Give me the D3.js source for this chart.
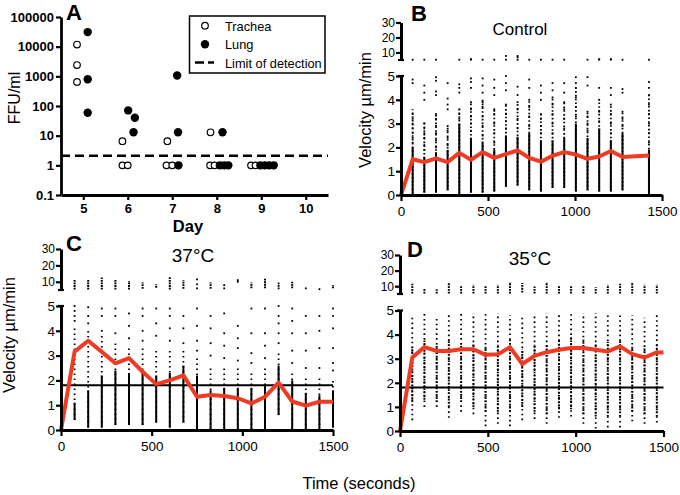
<!DOCTYPE html>
<html><head><meta charset="utf-8">
<script src="https://cdn.jsdelivr.net/npm/d3@7"></script>
<style>
body{margin:0;background:#fff}
svg{display:block}
text{font-family:"Liberation Sans",Arial,Helvetica,sans-serif;fill:#000}
</style>
</head><body>
<svg id="chart" width="680" height="495"></svg>
<script>
// ---------------- Panel A data ----------------
const dayTicks = [5, 6, 7, 8, 9, 10];
const ffuTicks = [0.1, 1, 10, 100, 1000, 10000, 100000];
const ffuTickLabels = ["0.1", "1", "10", "100", "1000", "10000", "100000"];
const tracheaDay = [4.86, 4.86, 4.86, 5.88, 5.88, 6.0, 6.89, 6.87, 7.0, 7.86, 7.85, 7.95, 8.77, 8.87];
const tracheaFFU = [11800, 2400, 650, 6.5, 1, 1, 6.5, 1, 1, 13, 1, 1, 1, 1];
const lungDay = [5.1, 5.1, 5.1, 6.01, 6.16, 6.13, 7.11, 7.13, 7.14, 8.13, 8.07, 8.17, 8.26, 8.98, 9.08, 9.18, 9.28];
const lungFFU = [31000, 800, 59, 71, 40, 13, 1070, 13, 1, 13, 1, 1, 1, 1, 1, 1, 1];
const limitOfDetection = 2.1;
const legendLabels = ["Trachea", "Lung", "Limit of detection"];

// ---------------- Velocity panels shared ----------------
const timeTicks = [0, 500, 1000, 1500];
const velLowerTicks = [0, 1, 2, 3, 4, 5];
const velUpperTicks = [10, 20, 30];
const velocityCutoff = 1.8;

// ---------------- Panel B (Control) ----------------
const bTimes = [67, 134, 201, 268, 335, 402, 469, 536, 603, 670, 737, 804, 871, 938, 1005, 1072, 1139, 1206, 1273, 1425];
const bMean = [0, 1.5, 1.38, 1.54, 1.38, 1.77, 1.48, 1.8, 1.56, 1.72, 1.87, 1.56, 1.4, 1.65, 1.8, 1.7, 1.52, 1.62, 1.85, 1.6, 1.66];
const bSparseLo = [0.05, 0.1, 0.1, 0.2, 0.05, 0.1, 0.1, 0.15, 0.35, 0.4, 0.2, 0.15, 0.3, 0.3, 0.15, 0.2, 0.15, 0.15, 0.2, 0.0];
const bSparseHi = [3.6, 3.1, 3.4, 2.9, 3.6, 3.9, 4.0, 3.6, 3.8, 3.9, 4.0, 3.4, 4.1, 3.9, 4.5, 3.5, 4.0, 3.8, 3.5, 4.2];
const bDenseLo = [0.05, 0.1, 0.1, 0.2, 0.05, 0.1, 0.1, 0.15, 0.35, 0.4, 0.2, 0.15, 0.3, 0.3, 0.15, 0.2, 0.15, 0.15, 0.2, 0.0];
const bDenseHi = [2.0, 1.6, 1.8, 1.9, 3.0, 2.4, 2.2, 1.9, 2.5, 2.45, 2.6, 2.3, 2.3, 2.4, 3.0, 2.4, 2.8, 2.3, 2.6, 1.9];
const bOutliers = [
  [2.2, 2.4, 2.6, 2.8, 3.0, 3.2, 3.4, 4.7, 4.85],
  [1.9, 2.1, 2.4, 2.6, 2.8, 3.0, 4.0, 4.3, 4.6],
  [2.0, 2.3, 2.6, 2.9, 3.2, 3.4, 4.2, 4.35, 4.8, 4.95],
  [2.1, 2.4, 2.7, 2.9, 3.6, 3.8, 4.05, 4.7],
  [3.2, 3.4, 3.6, 4.3, 4.5, 4.65],
  [2.7, 3.0, 3.3, 3.6, 3.9, 4.5, 4.75, 4.9],
  [2.5, 2.9, 3.3, 3.7, 3.9, 4.3, 4.6, 4.9],
  [2.2, 2.6, 3.0, 3.4, 3.6, 4.2, 4.5, 4.85],
  [2.8, 3.1, 3.4, 3.8, 4.4, 4.7, 5.0],
  [2.8, 3.2, 3.6, 3.9, 4.2, 4.55],
  [2.9, 3.3, 3.7, 4.0, 4.5, 4.85],
  [2.6, 2.9, 3.2, 3.4, 4.0, 4.3, 4.6],
  [2.6, 3.0, 3.4, 3.8, 4.1, 4.4, 4.7],
  [2.8, 3.2, 3.6, 3.9, 4.3, 4.7],
  [3.3, 3.7, 4.1, 4.5, 4.7, 4.95],
  [2.7, 3.0, 3.3, 3.5, 4.6, 4.95],
  [3.1, 3.5, 4.0, 4.5],
  [2.6, 3.0, 3.4, 3.8, 4.2, 4.5],
  [2.9, 3.2, 3.5, 4.3, 4.45],
  [2.2, 2.6, 3.0, 3.4, 3.8, 4.2, 4.5, 4.75]
];
const bUpperLo = [null, null, null, null, null, null, null, null, null, null, null, null, null, null, null, null, null, null, null, null];
const bUpperHi = [null, null, null, null, null, null, null, null, null, null, null, null, null, null, null, null, null, null, null, null];
const bUpperDots = [[5.2], [5.2], [5.2], [], [5.2], [5.2, 5.6], [5.2], [5.2], [5.2, 7.7], [5.2, 6.8, 7.7], [5.2], [5.2], [5.2], [5.2], [], [5.2], [5.2, 5.6], [5.2, 5.6], [5.2], [5.2]];

// ---------------- Panel C (37°C) ----------------
const cTimes = [75, 150, 225, 300, 375, 450, 525, 600, 675, 750, 825, 900, 975, 1050, 1125, 1200, 1275, 1350, 1425, 1500];
const cMean = [0, 3.16, 3.6, 3.15, 2.69, 2.9, 2.35, 1.85, 2.0, 2.2, 1.34, 1.41, 1.37, 1.28, 1.07, 1.34, 1.91, 1.15, 0.98, 1.14, 1.14];
const cSparseLo = [0.4, 0.1, 0.1, 0.2, 0.2, 0.2, 0.3, 0.1, 0.3, 0.0, 0.0, 0.0, 0.0, 0.0, 0.0, 0.6, 0.0, 0.0, 0.0, 0.1];
const cSparseHi = [4.2, 4.0, 3.8, 3.6, 3.4, 3.4, 3.3, 3.3, 3.2, 2.9, 2.6, 2.6, 2.5, 2.4, 2.6, 3.2, 2.4, 2.2, 2.1, 2.1];
const cDenseLo = [0.4, 0.1, 0.1, 0.2, 0.2, 0.2, 0.3, 0.1, 0.3, 0.0, 0.0, 0.0, 0.0, 0.0, 0.0, 0.6, 0.0, 0.0, 0.0, 0.1];
const cDenseHi = [1.1, 1.6, 2.2, 2.4, 2.3, 2.4, 2.2, 2.3, 2.6, 2.2, 1.6, 1.7, 1.7, 1.7, 1.8, 2.6, 2.0, 1.5, 1.4, 1.6];
const cOutliers = [
  [4.4, 4.6, 4.8, 5.0],
  [4.3, 4.6, 4.95],
  [4.0, 4.6, 4.9],
  [3.9, 4.6, 4.9],
  [3.7, 4.2, 4.7],
  [3.6, 4.0, 4.6, 4.9],
  [3.8, 4.3, 4.9],
  [3.6, 4.1, 4.6, 4.9],
  [3.5, 4.1, 4.6],
  [3.2, 3.6, 4.2, 4.9],
  [3.0, 3.5, 4.1, 4.6],
  [2.9, 3.4, 3.9, 4.7],
  [2.8, 3.3, 3.7, 4.2],
  [2.7, 3.1, 3.9, 4.9],
  [2.9, 3.4, 3.9, 4.9],
  [3.5, 3.9, 4.3, 4.6, 5.0],
  [2.7, 3.2, 3.9, 4.4, 4.9],
  [2.5, 3.2, 3.9, 4.6],
  [2.5, 3.3, 4.0, 4.6],
  [2.4, 2.7, 3.3, 4.1, 4.6, 4.9]
];
const cUpperLo = [5.3, 5.3, 5.3, 5.3, 5.3, 5.8, 6.3, 5.3, 5.8, null, 5.8, null, null, 6.0, 6.0, null, 6.0, null, null, 6.0];
const cUpperHi = [11.5, 11.5, 12.6, 11.5, 10.5, 9.5, 8.5, 13.0, 11.0, null, 9.5, null, null, 9.5, 12.0, null, 10.0, null, null, 8.0];
const cUpperDots = [[], [], [], [], [], [], [], [], [], [6.0, 8.5, 11.5], [], [6.0, 8.0], [10.0, 11.0], [], [], [6.0, 7.5, 9.0], [], [6.0], [5.5], []];

// ---------------- Panel D (35°C) ----------------
const dTimes = [70, 139, 209, 278, 348, 418, 487, 557, 626, 696, 766, 835, 905, 974, 1044, 1114, 1183, 1253, 1322, 1392, 1462];
const dMean = [0, 3.05, 3.48, 3.32, 3.32, 3.39, 3.39, 3.16, 3.18, 3.48, 2.78, 3.12, 3.27, 3.37, 3.44, 3.44, 3.37, 3.3, 3.51, 3.19, 3.05, 3.26, 3.26];
const dMeanEnd = 1500;
const dSparseLo = [0.45, 1.0, 1.0, 0.55, 0.8, 0.7, 0.2, 0.3, 0.2, 0.45, 0.5, 0.3, 0.55, 0.6, 0.3, 0.1, 0.15, 0.15, 0.4, 0.3, 0.35];
const dSparseHi = [4.8, 4.9, 4.7, 4.9, 4.9, 4.9, 4.9, 4.9, 4.8, 4.7, 4.8, 4.9, 4.9, 4.9, 4.9, 4.9, 4.8, 4.8, 4.8, 4.7, 4.8];
const dDenseLo = [1.2, 1.3, 1.2, 1.0, 1.2, 1.0, 0.8, 0.8, 0.8, 1.0, 0.8, 0.7, 0.9, 0.9, 0.7, 0.6, 0.6, 0.6, 0.8, 0.7, 0.6];
const dDenseHi = [3.5, 3.8, 3.6, 3.8, 3.7, 3.6, 3.5, 3.6, 3.8, 3.4, 3.6, 3.6, 3.8, 3.9, 3.8, 3.6, 3.7, 3.8, 3.5, 3.5, 3.6];
const dOutliers = [[], [], [], [], [], [], [], [], [], [], [], [], [], [], [], [], [], [], [], [], []];
const dUpperLo = [5.3, 5.3, 5.3, 5.3, 5.3, 5.3, 5.3, 5.3, 5.3, 6.0, 5.3, 5.3, 5.3, 5.3, 5.3, 5.3, 5.3, 5.3, 5.3, 5.3, 5.3];
const dUpperHi = [11.5, 8.6, 8.0, 12.0, 10.0, 11.0, 10.2, 11.0, 12.7, 12.0, 9.8, 12.7, 10.0, 10.6, 10.6, 9.4, 11.0, 11.6, 12.7, 11.0, 11.0];
const dUpperDots = [[], [], [], [], [], [], [], [], [], [], [], [], [], [], [], [], [], [], [], [], []];

// ================= drawing =================
const svg = d3.select("#chart");
const FONT = '"Liberation Sans",Arial,Helvetica,sans-serif';
const RED = "#ef3b24";
const intFmt = d3.format("d");

function styleAxis(g, domainW, tickW, fontSize, bold) {
  g.select(".domain").attr("stroke", "#000").attr("stroke-width", domainW);
  g.selectAll(".tick line").attr("stroke", "#000").attr("stroke-width", tickW);
  g.selectAll(".tick text").attr("font-family", FONT).attr("font-size", fontSize)
    .attr("font-weight", bold ? "bold" : "normal").attr("fill", "#000");
}

// ---------- Panel A ----------
(function () {
  const x = d3.scaleLinear().domain([4.5, 10.5]).range([61, 328]);
  const y = d3.scaleLog().domain([0.1, 100000]).range([195, 17]);
  const g = svg.append("g");

  g.append("line").attr("x1", x(4.5)).attr("x2", x(10.5))
    .attr("y1", y(limitOfDetection)).attr("y2", y(limitOfDetection))
    .attr("stroke", "#000").attr("stroke-width", 2.5).attr("stroke-dasharray", "9,5");

  g.selectAll("circle.tr").data(tracheaDay).enter().append("circle")
    .attr("cx", (d) => x(d)).attr("cy", (d, i) => y(tracheaFFU[i])).attr("r", 3.3)
    .attr("fill", "#fff").attr("stroke", "#000").attr("stroke-width", 1.2);
  g.selectAll("circle.lu").data(lungDay).enter().append("circle")
    .attr("cx", (d) => x(d)).attr("cy", (d, i) => y(lungFFU[i])).attr("r", 4.2)
    .attr("fill", "#000");

  const ya = g.append("g").attr("transform", `translate(${x(4.5)},0)`)
    .call(d3.axisLeft(y).tickValues(ffuTicks).tickFormat((d, i) => ffuTickLabels[i]).tickSize(5).tickSizeOuter(0).tickPadding(2));
  styleAxis(ya, 2.8, 2.2, 13, true);
  const xa = g.append("g").attr("transform", `translate(0,${y(0.1)})`)
    .call(d3.axisBottom(x).tickValues(dayTicks).tickFormat(intFmt).tickSize(5).tickSizeOuter(0).tickPadding(4));
  styleAxis(xa, 2.8, 2.2, 13, true);

  g.append("text").attr("x", 188).attr("y", 232).attr("text-anchor", "middle")
    .attr("font-size", 16.5).attr("font-weight", "bold").text("Day");
  g.append("text").attr("transform", "translate(20,98) rotate(-90)").attr("text-anchor", "middle")
    .attr("font-size", 16).text("FFU/ml");
  g.append("text").attr("x", 66).attr("y", 20).attr("font-size", 22).attr("font-weight", "bold").text("A");

  const lg = g.append("g");
  lg.append("rect").attr("x", 189.5).attr("y", 16).attr("width", 135.5).attr("height", 57)
    .attr("fill", "#fff").attr("stroke", "#000").attr("stroke-width", 1.5);
  lg.append("circle").attr("cx", 205).attr("cy", 25.7).attr("r", 3.3).attr("fill", "#fff").attr("stroke", "#000").attr("stroke-width", 1.2);
  lg.append("circle").attr("cx", 205).attr("cy", 44.3).attr("r", 4.2).attr("fill", "#000");
  lg.append("line").attr("x1", 195).attr("x2", 214).attr("y1", 62.5).attr("y2", 62.5)
    .attr("stroke", "#000").attr("stroke-width", 2.5).attr("stroke-dasharray", "9,4");
  legendLabels.forEach((t, i) => {
    lg.append("text").attr("x", 225).attr("y", 30.5 + i * 18.5).attr("font-size", 12.8).text(t);
  });
})();

// ---------- Velocity panel builder ----------
function velocityPanel(o) {
  const g = svg.append("g");
  const x = d3.scaleLinear().domain([0, 1500]).range([o.x0, o.x1]);
  const yL = d3.scaleLinear().domain([0, 5]).range([o.yBottom, o.yLowTop]);
  const yU = d3.scaleLinear().domain([5, 30]).range([o.yUpBottom, o.yUpTop]);

  const cols = g.selectAll("g.col").data(o.times).enter().append("g");
  cols.append("line")
    .attr("x1", (d) => x(d)).attr("x2", (d) => x(d))
    .attr("y1", (d, i) => yL(o.sparseLo[i])).attr("y2", (d, i) => yL(o.sparseHi[i]))
    .attr("stroke", "#000").attr("stroke-width", 1.8).attr("stroke-dasharray", o.sparseDash);
  cols.append("line")
    .attr("x1", (d) => x(d)).attr("x2", (d) => x(d))
    .attr("y1", (d, i) => yL(o.denseLo[i])).attr("y2", (d, i) => yL(o.denseHi[i]))
    .attr("stroke", "#000").attr("stroke-width", 2).attr("stroke-dasharray", o.denseDash);
  cols.each(function (t, i) {
    d3.select(this).selectAll("rect").data(o.outliers[i]).enter().append("rect")
      .attr("x", x(t) - 0.9).attr("y", (v) => yL(v) - 0.9).attr("width", 1.8).attr("height", 1.8).attr("fill", "#000");
    d3.select(this).selectAll("rect.u").data(o.upperDots[i]).enter().append("rect").attr("class", "u")
      .attr("x", x(t) - 0.9).attr("y", (v) => yU(v) - 0.9).attr("width", 1.8).attr("height", 1.8).attr("fill", "#000");
    if (o.upperLo[i] != null) {
      d3.select(this).append("line").attr("x1", x(t)).attr("x2", x(t))
        .attr("y1", yU(o.upperLo[i])).attr("y2", yU(o.upperHi[i]))
        .attr("stroke", "#000").attr("stroke-width", 2).attr("stroke-dasharray", o.upperDash);
    }
  });

  if (o.cutoff != null) {
    g.append("line").attr("x1", x(0)).attr("x2", x(1500)).attr("y1", yL(o.cutoff)).attr("y2", yL(o.cutoff))
      .attr("stroke", "#000").attr("stroke-width", 2);
  }

  const line = d3.line().x((d) => x(d[0])).y((d) => yL(d[1]));
  g.append("path").datum(o.meanTimes.map((t, i) => [t, o.mean[i]]))
    .attr("d", line).attr("fill", "none").attr("stroke", RED).attr("stroke-width", 4)
    .attr("stroke-linejoin", "round");

  const xa = g.append("g").attr("transform", `translate(0,${o.yBottom})`)
    .call(d3.axisBottom(x).tickValues(timeTicks).tickFormat(intFmt).tickSize(6).tickSizeOuter(0).tickPadding(5));
  styleAxis(xa, 3, 2.2, 13.5, false);
  const ya = g.append("g").attr("transform", `translate(${o.x0},0)`)
    .call(d3.axisLeft(yL).tickValues(velLowerTicks).tickFormat(intFmt).tickSize(5).tickSizeOuter(0).tickPadding(1));
  styleAxis(ya, 3, 2.2, 13.5, false);
  const yu = g.append("g").attr("transform", `translate(${o.x0},0)`)
    .call(d3.axisLeft(yU).tickValues(velUpperTicks).tickFormat(intFmt).tickSize(5).tickSizeOuter(0).tickPadding(1));
  styleAxis(yu, 3, 2.2, 12, false);
  g.append("line").attr("x1", o.x0 - 3).attr("x2", o.x0 + 3).attr("y1", yU(5)).attr("y2", yU(5))
    .attr("stroke", "#000").attr("stroke-width", 2.2);
  g.append("line").attr("x1", o.x0 - 3).attr("x2", o.x0 + 3).attr("y1", yL(5)).attr("y2", yL(5))
    .attr("stroke", "#000").attr("stroke-width", 2.2);

  g.append("text").attr("x", o.titleX).attr("y", o.titleY).attr("text-anchor", "middle")
    .attr("font-size", o.titleSize).text(o.title);
  g.append("text").attr("x", o.letterX).attr("y", o.letterY).attr("font-size", 22)
    .attr("font-weight", "bold").text(o.letter);
  if (o.yLabelX != null) {
    g.append("text").attr("transform", `translate(${o.yLabelX},${o.yLabelY}) rotate(-90)`)
      .attr("text-anchor", "middle").attr("font-size", 16.5).text("Velocity µm/min");
  }
}

velocityPanel({
  times: bTimes, meanTimes: [0].concat(bTimes), mean: bMean,
  sparseLo: bSparseLo, sparseHi: bSparseHi, denseLo: bDenseLo, denseHi: bDenseHi,
  outliers: bOutliers, upperLo: bUpperLo, upperHi: bUpperHi, upperDots: bUpperDots,
  sparseDash: "1.6,2.2", denseDash: null, upperDash: "1.8,0.8",
  cutoff: null,
  x0: 401, x1: 662, yBottom: 195, yLowTop: 76, yUpBottom: 60, yUpTop: 22.5,
  title: "Control", titleX: 520, titleY: 35, titleSize: 17,
  letter: "B", letterX: 411, letterY: 21, yLabelX: 371, yLabelY: 110
});

velocityPanel({
  times: cTimes, meanTimes: [0].concat(cTimes), mean: cMean,
  sparseLo: cSparseLo, sparseHi: cSparseHi, denseLo: cDenseLo, denseHi: cDenseHi,
  outliers: cOutliers, upperLo: cUpperLo, upperHi: cUpperHi, upperDots: cUpperDots,
  sparseDash: "1.6,3.4", denseDash: null, upperDash: "1.8,0.8",
  cutoff: velocityCutoff,
  x0: 61, x1: 333, yBottom: 430, yLowTop: 306, yUpBottom: 290, yUpTop: 249,
  title: "37°C", titleX: 193, titleY: 262, titleSize: 19,
  letter: "C", letterX: 66, letterY: 251, yLabelX: 15, yLabelY: 335
});

velocityPanel({
  times: dTimes, meanTimes: [0].concat(dTimes, [dMeanEnd]), mean: dMean,
  sparseLo: dSparseLo, sparseHi: dSparseHi, denseLo: dDenseLo, denseHi: dDenseHi,
  outliers: dOutliers, upperLo: dUpperLo, upperHi: dUpperHi, upperDots: dUpperDots,
  sparseDash: "1.6,3.2", denseDash: "1.6,1.6", upperDash: "1.8,1",
  cutoff: velocityCutoff,
  x0: 400, x1: 663.5, yBottom: 431, yLowTop: 310.5, yUpBottom: 294, yUpTop: 255,
  title: "35°C", titleX: 530, titleY: 265, titleSize: 19,
  letter: "D", letterX: 407, letterY: 257, yLabelX: null, yLabelY: null
});

svg.append("text").attr("x", 359).attr("y", 489).attr("text-anchor", "middle")
  .attr("font-size", 16.5).text("Time (seconds)");
</script>
</body></html>
